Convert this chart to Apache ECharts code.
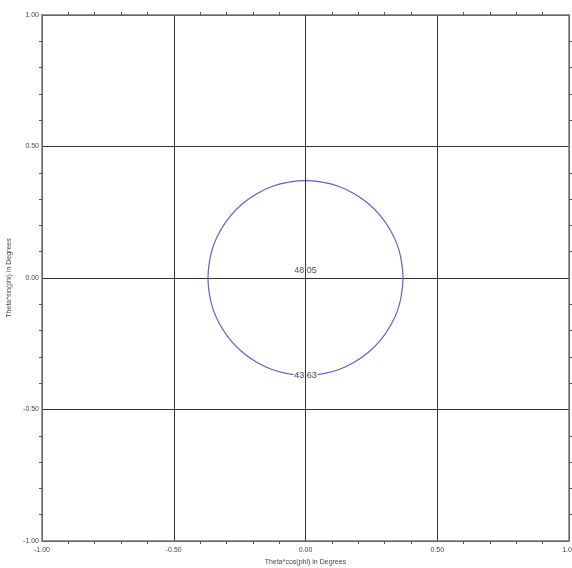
<!DOCTYPE html>
<html><head><meta charset="utf-8">
<script src="https://cdn.jsdelivr.net/npm/echarts@6/dist/echarts.min.js"></script>
<style>html,body{margin:0;padding:0;background:#fff}#c{width:572px;height:568px}</style>
</head><body><div id="c"></div>
<script>
// contour points (x = Theta*cos(phi), y = Theta*sin(phi))
var contourX = [0.370,0.364,0.348,0.320,0.283,0.238,0.185,0.127,0.064,0.000,-0.064,-0.127,-0.185,-0.238,-0.283,-0.320,-0.348,-0.364,-0.370,-0.364,-0.348,-0.320,-0.283,-0.238,-0.185,-0.127,-0.064,0.000,0.064,0.127,0.185,0.238,0.283,0.320,0.348,0.364,0.370];
var contourY = [0.000,0.064,0.127,0.185,0.238,0.283,0.320,0.348,0.364,0.370,0.364,0.348,0.320,0.283,0.238,0.185,0.127,0.064,0.000,-0.064,-0.127,-0.185,-0.238,-0.283,-0.320,-0.348,-0.364,-0.370,-0.364,-0.348,-0.320,-0.283,-0.238,-0.185,-0.127,-0.064,0.000];
var labelTexts = ['48.05','43.63'];
var labelX = [0.0, 0.0];
var labelY = [0.03, -0.37];
var axisMin = -1.0, axisMax = 1.0, axisStep = 0.5;

var circle = contourX.map(function(x,i){return [x, contourY[i]];});
var chart = echarts.init(document.getElementById('c'));
var FONT = 'Liberation Sans, Arial';
function fmt(v){return v.toFixed(2);}
function mkAxis(pos, show, extra){
  var a = {
    type:'value', min:axisMin, max:axisMax, interval:axisStep, position:pos,
    axisLine:{show:true, onZero:false, lineStyle:{color:'#777', width:1.5}},
    axisTick:{show:false},
    minorTick:{show:true, splitNumber:5, inside:true, length:3, lineStyle:{color:'#555'}},
    splitLine:{show:show, lineStyle:{color:'#333', width:1}},
    axisLabel:{show:false}
  };
  for (var k in extra) a[k]=extra[k];
  return a;
}
chart.setOption({
  animation:false,
  grid:{left:42, top:15, width:527, height:526, containLabel:false, outerBoundsMode:'none'},
  xAxis:[
    mkAxis('bottom', true, {name:'Theta*cos(phi) in Degrees', nameLocation:'middle', nameGap:18,
      nameTextStyle:{fontSize:7, color:'#444', fontFamily:FONT},
      axisLabel:{show:true, color:'#444', fontSize:7, margin:6, fontFamily:FONT, formatter:fmt}}),
    mkAxis('top', false, {})
  ],
  yAxis:[
    mkAxis('left', true, {name:'Theta*sin(phi) in Degrees', nameLocation:'middle', nameGap:28,
      nameTextStyle:{fontSize:7, color:'#444', fontFamily:FONT},
      axisLabel:{show:true, color:'#444', fontSize:7, margin:3, fontFamily:FONT, formatter:fmt}}),
    mkAxis('right', false, {})
  ],
  series:[
    {type:'line', data:circle, smooth:true, showSymbol:false, z:2,
     lineStyle:{color:'#6a58cc', width:1.2}},
    {type:'scatter', z:3, symbolSize:0,
     data: labelTexts.map(function(t,i){return {value:[labelX[i],labelY[i]], name:t};}),
     label:{show:true, position:'inside', formatter:function(p){return p.name;}, color:'#222', fontSize:9,
       fontFamily:FONT, backgroundColor:'#fff', padding:[0,1]}},
    {type:'line', data:[], z:10,
     markLine:{silent:true, symbol:'none', label:{show:false}, lineStyle:{color:'#333', width:1, type:'solid'},
       data:[{xAxis:0}]}}
  ]
});
</script></body></html>
